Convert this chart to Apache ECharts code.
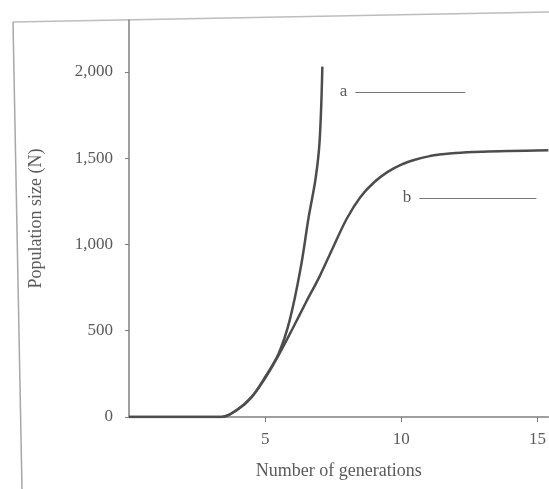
<!DOCTYPE html>
<html>
<head>
<meta charset="utf-8">
<script src="https://cdn.jsdelivr.net/npm/echarts@6/dist/echarts.min.js"></script>
<style>
  html, body { margin: 0; padding: 0; background: #fff; }
  #main { width: 549px; height: 489px; }
</style>
</head>
<body>
<div id="main"></div>
<script>
// curve a: exponential growth (generations, N)
var genA = [0, 3.4, 4.0, 4.5, 5.0, 5.5, 5.9, 6.3, 6.6, 6.85, 7.0, 7.1];
var popA = [0, 0, 45, 115, 232, 370, 560, 860, 1160, 1380, 1600, 2030];

// curve b: logistic growth
var genB = [0, 3.4, 4.0, 4.5, 5.0, 5.5, 6.0, 6.5, 7.0, 7.5, 8.0, 8.5, 9.0, 9.5, 10, 10.5, 11, 11.5, 12, 13, 14, 15.4];
var popB = [0, 0, 45, 115, 225, 360, 510, 665, 815, 985, 1150, 1275, 1360, 1420, 1462, 1490, 1510, 1522, 1530, 1537, 1541, 1545];

var yTicks = [0, 500, 1000, 1500, 2000];
var xTicks = [5, 10, 15];
var labelNames = ['a', 'b'];

var textColor = '#5a5a5a';
var lineColor = '#4d4d4d';
var axisColor = '#808080';
var font = 'Liberation Serif';

function pairs(xs, ys) {
  return xs.map(function (x, i) { return [x, ys[i]]; });
}

var chart = echarts.init(document.getElementById('main'));

chart.setOption({
  backgroundColor: '#fff',
  animation: false,
  grid: { left: 129, right: 0, top: 20, bottom: 72 },
  graphic: [
    // scanned page edges
    { type: 'line', shape: { x1: 13, y1: 22, x2: 549, y2: 12 }, style: { stroke: '#bdbdbd', lineWidth: 1.5 }, silent: true },
    { type: 'line', shape: { x1: 13, y1: 22, x2: 22, y2: 489 }, style: { stroke: '#a8a8a8', lineWidth: 1.5 }, silent: true }
  ],
  xAxis: {
    type: 'value',
    min: 0,
    max: 15.4,
    name: 'Number of generations',
    nameLocation: 'middle',
    nameGap: 45,
    nameTextStyle: { color: textColor, fontFamily: font, fontSize: 18 },
    axisLine: { lineStyle: { color: axisColor, width: 1.5 } },
    axisTick: { show: true, length: 5, customValues: xTicks, lineStyle: { color: axisColor } },
    axisLabel: { customValues: xTicks, color: textColor, fontFamily: font, fontSize: 17, margin: 14 },
    splitLine: { show: false }
  },
  yAxis: {
    type: 'value',
    min: 0,
    max: 2300,
    name: 'Population size (N)',
    nameLocation: 'middle',
    nameGap: 84,
    nameTextStyle: { color: textColor, fontFamily: font, fontSize: 18 },
    axisLine: { show: true, lineStyle: { color: axisColor, width: 1.5 } },
    axisTick: { show: true, length: 4, customValues: yTicks, lineStyle: { color: axisColor } },
    axisLabel: {
      customValues: yTicks,
      color: textColor,
      fontFamily: font,
      fontSize: 17,
      margin: 16,
      formatter: function (v) { return v.toLocaleString('en-US'); }
    },
    splitLine: { show: false }
  },
  series: [
    {
      name: 'a',
      type: 'line',
      data: pairs(genA, popA),
      smooth: 0.35,
      showSymbol: false,
      lineStyle: { color: lineColor, width: 2.5 },
      markLine: {
        silent: true,
        symbol: 'none',
        lineStyle: { color: '#777', width: 1.2, type: 'solid' },
        label: { show: true, position: 'start', formatter: labelNames[0], color: textColor, fontFamily: font, fontSize: 17, distance: 8 },
        data: [[{ coord: [8.31, 1884] }, { coord: [12.35, 1884] }]]
      }
    },
    {
      name: 'b',
      type: 'line',
      data: pairs(genB, popB),
      smooth: 0.35,
      showSymbol: false,
      lineStyle: { color: lineColor, width: 2.5 },
      markLine: {
        silent: true,
        symbol: 'none',
        lineStyle: { color: '#777', width: 1.2, type: 'solid' },
        label: { show: true, position: 'start', formatter: labelNames[1], color: textColor, fontFamily: font, fontSize: 17, distance: 8 },
        data: [[{ coord: [10.66, 1270] }, { coord: [14.96, 1270] }]]
      }
    }
  ]
});
</script>
</body>
</html>
